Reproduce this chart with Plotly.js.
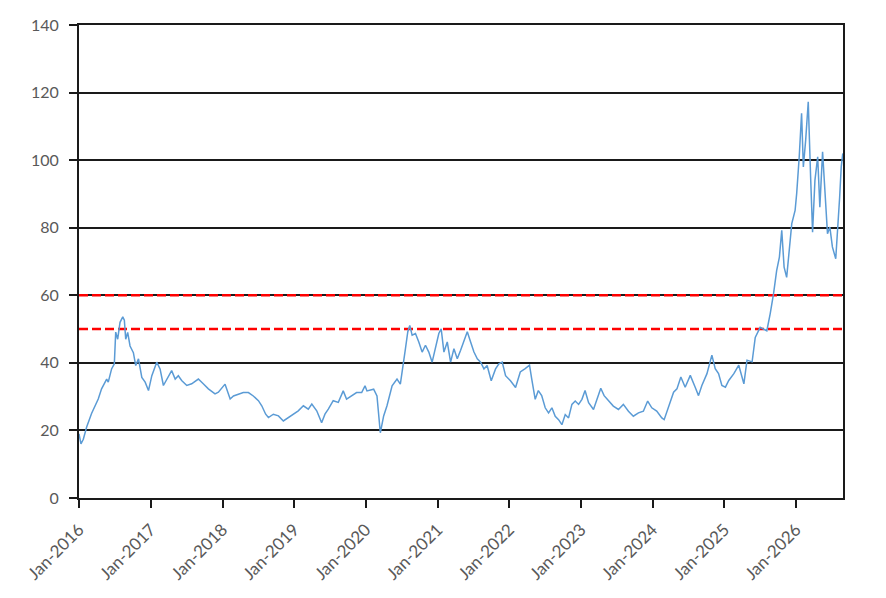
<!DOCTYPE html>
<html>
<head>
<meta charset="utf-8">
<script src="https://cdn.plot.ly/plotly-3.0.1.min.js"></script>
<style>
  html, body { margin: 0; padding: 0; background: #fff; }
  #chart { width: 886px; height: 598px; }
</style>
</head>
<body>
<div id="chart"></div>
<script>
// Series
const dates = [
  "2016-01-01","2016-01-11","2016-01-23","2016-02-09","2016-03-05","2016-03-22","2016-04-08","2016-04-25",
  "2016-05-21","2016-05-29","2016-06-15","2016-06-29","2016-07-06","2016-07-16","2016-07-28","2016-08-11",
  "2016-08-19","2016-08-26","2016-09-05","2016-09-17","2016-10-04","2016-10-16","2016-10-30","2016-11-16",
  "2016-12-03","2016-12-20","2017-01-06","2017-01-31","2017-02-17","2017-03-06","2017-03-23","2017-04-17",
  "2017-05-05","2017-05-21","2017-06-07","2017-07-03","2017-07-28","2017-08-31","2017-09-25","2017-10-21",
  "2017-11-24","2017-12-11",
  "2018-01-14","2018-01-31","2018-02-09","2018-02-26","2018-03-23","2018-04-17","2018-05-13","2018-06-07",
  "2018-07-03","2018-07-20","2018-08-09","2018-08-23","2018-09-17","2018-10-13","2018-11-07","2018-12-03",
  "2018-12-28","2019-01-22","2019-02-17","2019-03-14","2019-04-01","2019-04-26","2019-05-21","2019-06-07",
  "2019-06-24","2019-07-19","2019-08-14","2019-09-08","2019-09-25","2019-10-21","2019-11-15","2019-12-11",
  "2019-12-28",
  "2020-01-07","2020-02-10","2020-02-27","2020-03-15","2020-04-01","2020-04-18","2020-05-14","2020-06-08",
  "2020-06-25","2020-07-09","2020-07-21","2020-08-02","2020-08-12","2020-08-24","2020-09-10","2020-09-27",
  "2020-10-14","2020-10-31","2020-11-17","2020-12-04","2020-12-21","2021-01-07","2021-01-19","2021-02-02",
  "2021-02-19","2021-03-08","2021-03-25","2021-04-11","2021-04-28","2021-05-15","2021-06-01","2021-06-18",
  "2021-07-05","2021-07-22","2021-08-08","2021-08-25","2021-09-10","2021-10-01","2021-10-23","2021-11-09",
  "2021-11-26","2021-12-13","2022-01-07","2022-02-02",
  "2022-02-26","2022-03-23","2022-04-14","2022-04-25","2022-05-13","2022-05-29","2022-06-15","2022-07-03",
  "2022-07-20","2022-08-06","2022-08-23","2022-09-09","2022-09-26","2022-10-13","2022-10-30","2022-11-16",
  "2022-12-03","2022-12-20","2023-01-06","2023-01-22","2023-02-09","2023-03-06","2023-03-23","2023-04-12",
  "2023-04-29","2023-05-21","2023-06-15","2023-07-11","2023-08-05","2023-08-31","2023-09-25","2023-10-21",
  "2023-11-15","2023-12-07","2023-12-28","2024-01-22","2024-02-17","2024-02-29","2024-03-22","2024-04-17",
  "2024-05-04","2024-05-24",
  "2024-06-15","2024-07-11","2024-08-05","2024-08-22","2024-09-08","2024-10-04","2024-10-29","2024-11-15",
  "2024-12-02","2024-12-19","2025-01-06","2025-01-23","2025-02-18","2025-03-15","2025-04-10","2025-04-26",
  "2025-05-22",
  "2025-06-07","2025-07-02","2025-08-05","2025-08-22","2025-09-08","2025-09-24","2025-10-08","2025-10-20",
  "2025-11-01","2025-11-14","2025-11-28","2025-12-10","2025-12-27","2026-01-04","2026-01-17","2026-01-29",
  "2026-02-07","2026-02-19","2026-03-04","2026-03-09","2026-03-16","2026-03-26","2026-04-07","2026-04-21",
  "2026-05-02","2026-05-16","2026-05-28","2026-06-10","2026-06-22","2026-07-05","2026-07-22","2026-08-03",
  "2026-08-11","2026-08-19","2026-08-27"
];
const values = [
  19, 16, 17.4, 21, 25, 27.3, 29.3, 32.3,
  35.2, 34.3, 38.2, 39.7, 49.1, 47, 52, 53.6,
  52.6, 47, 49, 45, 43, 39.2, 41.2, 35.7,
  34.3, 31.8, 36.2, 40.2, 38.2, 33.3, 35.2, 37.7,
  35.2, 36.2, 34.8, 33.3, 33.8, 35.2, 33.8, 32.3,
  30.8, 31.3,
  33.7, 31.2, 29.3, 30.2, 30.7, 31.2, 31.2, 30.2,
  28.8, 27.3, 24.8, 23.8, 24.8, 24.3, 22.8, 23.8,
  24.8, 25.8, 27.3, 26.3, 27.8, 25.8, 22.3, 24.8,
  26.3, 28.8, 28.3, 31.7, 29.3, 30.2, 31.2, 31.2,
  33.2,
  31.7, 32.2, 30.2, 19.3, 24.3, 27.3, 33.2, 35.2,
  33.7, 38.7, 44.2, 49.2, 51.1, 48.2, 48.7, 46.2,
  43.2, 45.2, 43.2, 40.2, 44.2, 48.7, 50.1, 43.2,
  46.2, 40.2, 44.2, 41.2, 43.7, 46.7, 49.2, 46.2,
  43.2, 41.2, 40.2, 38.2, 39.2, 34.7, 38.2, 39.7,
  40.2, 36.2, 34.7, 32.7,
  37.3, 38.3, 39.3, 35.3, 29.2, 31.8, 30.3, 26.7,
  25.2, 26.7, 24.2, 23.2, 21.7, 24.7, 23.7, 27.7,
  28.7, 27.7, 29.2, 31.8, 28.2, 26.2, 29.2, 32.5,
  30.3, 28.7, 27.2, 26.2, 27.7, 25.7, 24.2, 25.2,
  25.7, 28.7, 26.7, 25.7, 23.7, 23.2, 27.2, 31.3,
  32.3, 35.8,
  32.8, 36.3, 32.8, 30.3, 33.3, 36.8, 42.3, 38.3,
  36.8, 33.3, 32.8, 34.8, 36.8, 39.3, 33.8, 40.8,
  40.3,
  47.5, 50.5, 49.5, 54.5, 60.4, 67.3, 71.3, 79.2,
  68.3, 65.3, 74.3, 81.2, 85.1, 90.1, 101, 113.9,
  98, 106, 117.3, 104, 95, 78.7, 94, 101,
  86.1, 102.5, 90.1, 78.2, 80.2, 74.3, 70.8, 80.2,
  89.1, 98, 102
];

// Reference levels (red dashed) and axis span
const thresholds = [50, 60];
const xRange = ["2016-01-01", "2026-08-28"];
const yRange = [0, 140];

const traces = thresholds.map(t => ({
  type: "scatter",
  mode: "lines",
  x: xRange,
  y: [t, t],
  line: { color: "#FF0000", width: 2.5, dash: "9px,4px" },
  hoverinfo: "skip",
  showlegend: false
}));

traces.push({
  type: "scatter",
  mode: "lines",
  x: dates,
  y: values,
  line: { color: "#5B9BD5", width: 1.5 },
  showlegend: false
});

const fontFamily = "Lato, 'Open Sans', sans-serif";

const layout = {
  width: 886,
  height: 598,
  margin: { l: 79, r: 43, t: 25, b: 100 },
  paper_bgcolor: "#ffffff",
  plot_bgcolor: "#ffffff",
  xaxis: {
    type: "date",
    range: xRange,
    tick0: "2016-01-01",
    dtick: "M12",
    tickformat: "%b-%Y",
    tickangle: -45,
    ticks: "outside",
    ticklen: 8,
    tickcolor: "#1a1a1a",
    tickwidth: 2,
    ticklabelstandoff: 5,
    showgrid: false,
    showline: true,
    linecolor: "#1a1a1a",
    linewidth: 2,
    mirror: true,
    zeroline: false,
    tickfont: { family: fontFamily, size: 17, color: "#595959" }
  },
  yaxis: {
    range: yRange,
    dtick: 20,
    ticks: "outside",
    ticklen: 8,
    tickcolor: "#1a1a1a",
    tickwidth: 2,
    ticklabelstandoff: 7,
    showgrid: true,
    gridcolor: "#1a1a1a",
    gridwidth: 2,
    showline: true,
    linecolor: "#1a1a1a",
    linewidth: 2,
    mirror: true,
    zeroline: false,
    tickfont: { family: fontFamily, size: 16, color: "#595959" }
  }
};

Plotly.newPlot("chart", traces, layout, { displayModeBar: false, staticPlot: true });
</script>
</body>
</html>
